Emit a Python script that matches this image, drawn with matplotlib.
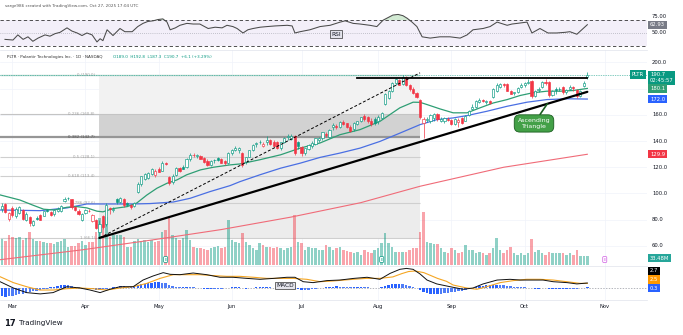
import matplotlib
matplotlib.use("Agg")
import matplotlib.pyplot as plt
import matplotlib.transforms as mtransforms
from matplotlib.lines import Line2D
import numpy as np
import pandas as pd

W, H = 683, 335
X0_PX = 12.3        # pixel column of the first March bar
PX_PER_BAR = 3.485  # horizontal spacing of daily bars
PLOT_RIGHT_PX = 647

HOLIDAYS = ["2025-04-18", "2025-05-26", "2025-06-19", "2025-07-04", "2025-09-01"]
MONTH_LABELS = ["Mar", "Apr", "May", "Jun", "Jul", "Aug", "Sep", "Oct", "Nov"]

# PLTR daily bars, Feb 26 .. Oct 27 2025
opens = [88.0, 92.0, 80.5, 89.0, 83.0, 85.0, 87.5, 80.0, 82.0, 76.0,
         81.5, 83.5, 83.0, 87.5, 86.0, 84.0, 86.5, 87.0, 94.0, 96.5,
         95.5, 89.5, 87.0, 80.0, 85.0, 86.5, 79.0, 79.5, 70.5, 82.5,
         76.5, 88.5, 87.5, 96.0, 93.5, 95.5, 92.5, 91.5, 90.5, 101.0,
         107.0, 111.0, 112.0, 115.0, 114.0, 119.0, 117.5, 123.0, 112.5, 109.0,
         114.0, 119.5, 120.0, 120.0, 126.0, 129.0, 128.5, 128.5, 127.0, 125.0,
         121.5, 125.5, 127.0, 126.0, 124.5, 123.0, 131.0, 133.5, 133.0, 131.0,
         124.0, 128.0, 133.0, 137.5, 139.0, 136.0, 139.0, 140.5, 139.5, 139.0,
         135.0, 139.5, 143.0, 141.5, 143.5, 139.0, 135.5, 131.0, 134.0, 136.0,
         138.0, 141.0, 142.0, 145.5, 143.0, 151.0, 151.5, 150.5, 154.5, 153.5,
         151.0, 149.0, 153.0, 155.0, 159.0, 158.0, 155.5, 157.0, 155.5, 157.5,
         168.5, 173.0, 178.5, 184.0, 186.5, 183.5, 188.5, 182.5, 179.5, 176.5,
         171.0, 153.5, 156.0, 155.0, 157.5, 160.5, 155.5, 155.5, 157.0, 156.0,
         153.0, 154.5, 157.5, 155.5, 159.5, 164.5, 166.0, 170.0, 171.0, 169.5,
         170.5, 173.5, 178.5, 181.5, 183.5, 183.5, 178.0, 176.5, 177.0, 181.0,
         182.5, 184.5, 185.5, 174.0, 179.0, 181.0, 184.5, 185.0, 175.0, 180.0,
         179.5, 181.0, 177.0, 180.0, 180.5, 179.0, 174.5, 182.0, 189.0]
highs = [92.5, 93.0, 86.0, 90.5, 89.5, 90.5, 88.5, 85.5, 82.5, 80.0,
         82.5, 84.5, 87.0, 88.5, 86.5, 88.0, 89.5, 91.0, 97.5, 97.0,
         96.0, 90.5, 88.0, 85.0, 88.5, 88.5, 84.5, 80.5, 80.0, 83.5,
         93.0, 89.5, 89.5, 96.5, 97.5, 96.5, 93.5, 92.0, 93.5, 108.5,
         113.5, 115.5, 116.5, 119.5, 118.5, 120.0, 124.5, 124.0, 113.5, 114.5,
         120.5, 120.5, 121.5, 127.0, 130.5, 130.5, 130.0, 129.5, 127.5, 126.0,
         125.5, 126.0, 128.0, 127.0, 125.5, 131.5, 134.0, 136.0, 135.5, 131.5,
         128.0, 133.5, 138.0, 139.0, 140.5, 139.5, 143.5, 141.5, 140.5, 140.0,
         139.5, 143.0, 145.5, 145.0, 144.5, 140.0, 136.0, 135.0, 137.5, 140.0,
         142.5, 143.0, 147.0, 147.0, 149.0, 153.5, 153.0, 155.5, 156.0, 154.0,
         152.0, 154.5, 155.5, 158.5, 160.5, 159.0, 157.5, 158.5, 160.0, 162.5,
         176.5, 179.0, 185.0, 188.0, 187.5, 190.0, 189.5, 183.5, 181.0, 177.5,
         172.0, 158.0, 158.5, 160.5, 161.5, 161.0, 158.0, 158.5, 158.0, 157.0,
         157.5, 157.5, 158.0, 160.0, 164.0, 168.5, 171.0, 173.0, 172.0, 171.5,
         171.5, 180.5, 184.0, 184.5, 184.5, 184.0, 179.0, 177.5, 181.0, 184.0,
         185.0, 187.5, 186.5, 179.0, 181.0, 185.5, 187.0, 186.0, 179.0, 181.0,
         181.5, 182.0, 179.5, 182.5, 182.0, 180.0, 179.0, 185.5, 192.8]
lows = [85.5, 84.8, 79.0, 82.0, 81.5, 84.0, 79.5, 79.0, 75.5, 75.0,
        79.5, 79.5, 82.5, 86.0, 82.5, 83.0, 85.5, 86.0, 93.5, 95.0,
        88.5, 86.5, 83.5, 79.0, 84.0, 85.5, 78.5, 73.0, 66.1, 73.0,
        75.0, 84.5, 86.0, 92.0, 92.5, 90.0, 90.5, 88.5, 89.5, 100.0,
        106.0, 110.0, 111.0, 114.0, 112.5, 116.0, 117.0, 121.5, 106.5, 107.5,
        113.5, 116.0, 118.5, 119.5, 125.0, 127.5, 127.0, 126.0, 123.5, 121.0,
        121.0, 123.0, 124.5, 123.0, 122.0, 122.5, 129.5, 132.5, 130.5, 120.5,
        122.5, 127.5, 132.5, 135.5, 137.5, 135.5, 137.0, 137.0, 135.5, 134.0,
        133.5, 138.5, 140.5, 141.0, 129.5, 134.0, 128.5, 129.5, 133.0, 135.0,
        137.0, 139.5, 141.0, 143.0, 142.5, 148.5, 149.0, 150.0, 152.0, 150.0,
        146.5, 148.0, 152.0, 154.5, 155.5, 154.0, 151.5, 152.5, 153.0, 156.5,
        167.5, 172.0, 177.5, 183.0, 182.5, 182.5, 182.0, 178.5, 175.5, 172.5,
        156.5, 142.5, 154.5, 154.0, 155.0, 155.5, 154.5, 154.0, 155.0, 152.0,
        152.0, 151.0, 153.0, 155.0, 159.0, 163.5, 165.5, 169.0, 169.5, 168.5,
        168.5, 173.0, 177.0, 180.5, 181.0, 178.0, 175.5, 175.0, 176.5, 180.5,
        181.5, 183.5, 172.5, 173.5, 177.5, 180.5, 183.0, 173.5, 174.0, 175.5,
        178.0, 176.0, 175.5, 179.0, 178.0, 172.5, 173.5, 181.0, 187.3]
closes = [90.5, 85.5, 85.0, 83.5, 88.5, 89.5, 80.5, 84.5, 77.5, 79.0,
          80.5, 80.0, 86.5, 87.0, 83.5, 87.5, 88.5, 90.5, 96.0, 96.3,
          89.5, 87.5, 84.5, 84.5, 87.5, 87.0, 83.5, 74.0, 76.5, 74.5,
          91.5, 88.5, 88.5, 93.5, 96.5, 91.0, 91.5, 89.5, 93.0, 107.5,
          113.0, 114.5, 115.5, 118.5, 117.5, 116.5, 123.5, 122.5, 108.0, 113.5,
          119.5, 117.0, 119.0, 126.5, 129.5, 129.0, 129.5, 126.5, 124.0, 122.0,
          125.0, 125.2, 125.5, 123.5, 123.0, 131.0, 133.0, 134.5, 134.5, 122.0,
          127.5, 133.0, 137.0, 138.5, 139.5, 138.0, 140.5, 137.5, 136.0, 134.5,
          139.0, 142.5, 143.5, 144.0, 131.0, 136.5, 130.5, 134.5, 137.0, 138.5,
          142.0, 142.5, 146.5, 144.5, 148.5, 152.0, 150.5, 154.5, 153.0, 151.0,
          148.0, 154.0, 155.0, 158.0, 156.5, 155.0, 153.0, 154.0, 158.5, 161.5,
          175.5, 178.5, 184.5, 187.0, 183.0, 188.5, 183.0, 179.5, 176.5, 173.5,
          158.0, 156.5, 156.5, 159.5, 160.5, 156.5, 156.5, 157.5, 156.0, 153.0,
          156.5, 156.0, 154.0, 159.0, 163.0, 166.0, 170.5, 171.5, 170.5, 170.5,
          169.0, 179.5, 183.0, 183.5, 182.5, 178.5, 176.0, 177.0, 180.5, 183.0,
          184.0, 185.0, 174.5, 178.0, 180.0, 185.0, 184.5, 175.0, 178.5, 179.0,
          180.0, 177.0, 179.0, 181.0, 180.5, 174.0, 178.5, 184.6, 190.7]
volumes = [95, 88, 112, 105, 100, 105, 93, 100, 124, 95,
           89, 89, 87, 83, 80, 77, 87, 91, 98, 67,
           70, 71, 82, 89, 74, 85, 85, 124, 175, 149,
           180, 103, 112, 112, 110, 106, 68, 68, 90, 96,
           90, 92, 85, 92, 87, 88, 124, 130, 180, 112,
           99, 93, 99, 130, 93, 68, 62, 62, 60, 57,
           62, 68, 71, 62, 68, 167, 93, 87, 81, 120,
           84, 74, 62, 56, 81, 74, 68, 68, 62, 68,
           62, 56, 62, 68, 186, 87, 81, 56, 68, 62,
           62, 56, 56, 74, 68, 56, 62, 68, 56, 51,
           47, 43, 50, 37, 56, 50, 43, 56, 62, 81,
           119, 81, 68, 50, 50, 50, 50, 56, 62, 62,
           124, 199, 87, 81, 78, 78, 62, 50, 43, 62,
           56, 43, 50, 74, 56, 56, 43, 50, 43, 37,
           43, 62, 100, 56, 43, 56, 68, 43, 37, 43,
           37, 43, 97, 50, 54, 43, 37, 50, 43, 46,
           43, 43, 37, 43, 37, 56, 33, 33, 33.48]   # millions

# moving averages, sampled along the lines (bar index, price)
ema_fast_x = [-3.5, 2.2, 6.0, 9.0, 12.0, 15.7, 18.5, 21.4, 24.3, 26.0, 29.0, 33.0, 35.7, 38.6, 41.5,
              44.4, 47.2, 50.0, 54.0, 57.7, 62.5, 65.3, 71.0, 77.0, 82.6, 88.3, 94.0, 99.8, 105.5,
              111.2, 115.0, 117.0, 119.0, 122.7, 126.5, 130.5, 134.2, 138.0, 142.0, 145.7, 149.4,
              153.4, 157.2, 160.9, 165.0]
ema_fast = [98.9, 95.0, 91.0, 88.0, 87.4, 89.5, 90.0, 89.0, 86.5, 86.0, 88.5, 90.0, 92.7, 98.8, 104.0,
            107.8, 110.3, 114.2, 118.0, 120.0, 121.8, 122.5, 125.7, 129.5, 134.6, 138.5, 144.8, 148.7,
            155.0, 165.3, 169.6, 169.5, 167.8, 164.5, 161.5, 161.5, 165.3, 169.0, 171.6, 174.7, 176.8,
            178.0, 178.0, 178.5, 180.1]
ema_slow_x = [-3.5, 8.0, 15.7, 21.4, 25.0, 34.7, 39.5, 46.2, 51.0, 56.7, 62.5, 65.3, 71.0, 77.0, 82.6,
              88.3, 94.0, 99.8, 105.5, 111.2, 117.0, 121.8, 126.5, 130.5, 136.2, 142.0, 147.7, 153.4,
              159.2, 165.0]
ema_slow = [87.4, 86.9, 89.0, 92.0, 92.0, 92.0, 92.3, 93.5, 96.3, 101.4, 106.0, 109.0, 114.2, 119.3,
            123.1, 127.5, 130.8, 134.6, 139.7, 146.0, 152.5, 156.3, 157.6, 159.4, 162.7, 166.5, 169.6,
            171.6, 172.2, 172.0]
sma_long_x = [-3.5, 20, 40, 60, 80, 100, 117, 141, 165]
sma_long = [49.5, 57.0, 64.5, 72.5, 82.0, 93.0, 105.5, 120.0, 129.9]

# RSI pane
rsi_x = [-2.1, 0.2, 1.6, 3.1, 4.5, 5.9, 7.4, 9.4, 10.8, 12.3, 13.7, 15.7, 17.1, 18.6, 20.0, 21.4,
         22.9, 24.3, 25.2, 26.0, 27.2, 28.9, 30.9, 32.3, 34.4, 36.0, 37.5, 38.9, 40.4, 41.8, 43.2,
         44.4, 45.3, 46.8, 48.1, 50.1, 51.9, 53.8, 56.2, 58.2, 60.2, 61.6, 63.3, 64.5, 66.2, 67.6,
         69.1, 71.1, 73.1, 75.4, 78.9, 80.3, 81.1, 82.6, 85.4, 88.3, 91.2, 94.1, 95.5, 97.8, 99.8,
         102.6, 104.6, 106.4, 107.8, 109.2, 110.7, 112.1, 113.3, 114.7, 116.1, 117.6, 119.9, 122.7,
         125.6, 128.5, 130.5, 132.2, 135.1, 137.1, 139.1, 142.0, 143.4, 144.9, 147.7, 149.1, 151.4,
         153.7, 156.2, 158.6, 160.0, 162.0, 165.0]
rsi_vals = [40, 39, 47, 40, 44, 37, 42, 47, 45, 49, 51, 58, 53, 50, 46, 50,
            47, 36, 41, 38, 55, 46, 57, 52, 52, 60, 65, 68, 69, 71, 72,
            67, 55, 58, 62, 65, 64, 64, 57, 59, 58, 62, 60, 57, 50, 55,
            57, 59, 60, 61, 62, 61, 50, 52, 55, 60, 62, 67, 69, 65, 64,
            62, 60, 70, 74, 78, 79, 77, 73, 67, 60, 44, 42, 44,
            44, 42, 47, 55, 57, 60, 67, 62, 64, 65, 67, 50, 57,
            50, 50, 51, 52, 48, 62.93]

# MACD pane
macd_x = [-3.5, 0.3, 4.1, 8.0, 11.7, 15.7, 19.4, 22.3, 25.2, 28.0, 30.9, 34.7, 37.5, 40.4, 43.3,
          45.3, 48.1, 51.9, 55.8, 59.6, 63.3, 67.3, 71.1, 75.0, 78.8, 81.1, 83.5, 86.3, 90.3, 94.0,
          98.0, 101.8, 105.5, 108.4, 111.2, 113.1, 115.0, 117.0, 119.0, 121.8, 125.6, 129.4, 132.2,
          135.1, 139.1, 142.8, 145.7, 148.5, 152.3, 155.2, 159.2, 162.0, 165.0]
macd_vals = [3.4, 0.0, -2.5, -3.2, -2.5, 0.7, 0.0, -1.1, -2.5, -0.7, 0.7, 0.7, 4.3, 6.5, 8.3,
             7.4, 7.2, 8.1, 7.2, 5.8, 5.8, 5.2, 4.7, 5.2, 5.8, 5.8, 3.4, 2.9, 4.0, 4.3,
             5.2, 5.8, 4.7, 7.9, 10.1, 10.6, 10.1, 7.6, 4.3, 2.2, 0.7, -0.7, 0.0,
             2.2, 4.3, 4.7, 4.3, 4.3, 4.3, 3.4, 2.9, 2.2, 2.7]
signal_x = [-3.5, 0.3, 4.1, 7.9, 11.8, 15.6, 19.4, 23.3, 27.1, 30.9, 34.7, 38.6, 42.4, 46.2, 50.0,
            53.9, 57.7, 61.5, 65.3, 69.2, 73.0, 76.8, 80.6, 84.5, 88.3, 92.1, 97.8, 101.6, 105.5,
            109.2, 111.8, 113.7, 115.6, 118.1, 120.0, 122.0, 124.6, 126.5, 130.4, 133.3, 136.1,
            140.0, 143.8, 147.6, 151.4, 155.2, 159.1, 162.9, 165.0]
signal_vals = [6.1, 2.9, 0.7, -1.1, -1.1, -0.4, 0.0, -0.4, -1.1, 0.0, 0.7, 2.5, 5.2, 7.2, 7.2,
               7.2, 6.7, 6.3, 6.3, 5.8, 5.2, 5.2, 5.2, 4.7, 3.4, 3.8, 4.7, 5.2, 5.2,
               6.0, 7.8, 8.9, 9.2, 8.3, 6.8, 5.2, 3.6, 1.6, 0.0, -0.7, 0.7,
               2.9, 4.0, 4.7, 4.7, 4.3, 3.4, 2.5, 2.5]
hist_vals = [-4.5, -4.7, -4.6, -4.3,
             -3.8, -3.3, -3.0, -2.6, -2.2, -1.8, -1.5, -1.1, -0.7, -0.3,
             0.3, 0.8, 1.2, 1.5, 1.6, 1.4, 1.0, 0.6, 0.3, 0.0,
             -0.3, -0.6, -0.8, -1.0, -1.2, -0.8, -0.3, 0.2, 0.5, 0.8,
             0.9, 0.9, 0.8, 0.8, 1.0, 1.6, 2.0, 2.4, 2.7, 2.9,
             3.0, 3.0, 2.9, 2.6, 1.6, 0.9, 0.6, 0.5, 0.6, 0.8,
             0.7, 0.5, 0.2, -0.1, -0.4, -0.6, -0.6, -0.5, -0.4, -0.3,
             -0.2, 0.1, 0.3, 0.5, 0.5, -0.2, -0.3, -0.1, 0.2, 0.4,
             0.5, 0.5, 0.5, 0.3, 0.1, 0.0, 0.1, 0.3, 0.5, 0.6,
             -0.3, -0.7, -1.1, -1.0, -0.9, -0.7, -0.4, -0.1, 0.2, 0.4,
             0.6, 0.8, 0.9, 0.8, 0.7, 0.5, 0.3, 0.3, 0.4, 0.5,
             0.4, 0.3, 0.1, -0.1, -0.2, 0.3, 1.0, 1.5, 1.9, 2.1,
             2.1, 2.0, 1.7, 1.2, 0.6, 0.0, -1.1, -2.0, -2.6, -3.0,
             -3.1, -3.1, -3.0, -2.8, -2.5, -2.3, -2.0, -1.7, -1.4, -1.0,
             -0.5, 0.0, 0.5, 1.0, 1.3, 1.4, 1.5, 1.6, 1.7, 1.6,
             1.4, 1.1, 0.9, 0.7, 0.6, 0.5, 0.4, 0.2, -0.2, -0.3,
             -0.3, -0.2, 0.0, -0.3, -0.5, -0.6, -0.7, -0.8, -0.8, -0.7,
             -0.6, -0.5, -0.2, 0.1, 0.3]

# drawings
fib_prices = [190.0, 160.8, 142.7, 128.1, 113.4, 92.6, 66.1]
fib_labels = ["0 (190.0)", "0.236 (160.8)", "0.382 (142.7)", "0.5 (128.1)",
              "0.618 (113.4)", "0.786 (92.6)", "1 (66.1)"]
fib_span = [25, 117]
support_line = ([25, 165], [66.1, 177.5])
resistance_line = ([99, 165], [188.3, 188.3])
channel_line = ([25, 117], [66.1, 192.0])
price_ticks = [200, 160, 140, 120, 100, 80, 60]

GREEN = "#089981"
RED = "#f23645"
TXT = "#131722"
FS = 3.8

fig = plt.figure(figsize=(W / 100, H / 100), dpi=100)
fig.patch.set_facecolor("white")


def fx(px):
    return px / W


def fy(py):
    return 1 - py / H


def axes_px(x0, y0, x1, y1):
    ax = fig.add_axes([fx(x0), fy(y1), (x1 - x0) / W, (y1 - y0) / H])
    ax.set_xlim((0 - X0_PX) / PX_PER_BAR, (PLOT_RIGHT_PX - X0_PX) / PX_PER_BAR)
    return ax


def strip(ax):
    ax.set_facecolor("none")
    for s in ax.spines.values():
        s.set_visible(False)
    ax.set_xticks([])
    ax.set_yticks([])


x = np.arange(len(closes)) - 3  # Mar 3 2025 is bar 0
opens, highs, lows, closes = map(np.array, (opens, highs, lows, closes))
volumes = np.array(volumes)

days = pd.bdate_range("2025-02-26", "2025-11-10")
days = days[~days.isin(pd.to_datetime(HOLIDAYS))]
day_idx = np.arange(len(days)) - 3
month_pos = [int(day_idx[np.argmax(np.asarray(days.month) == m)]) for m in range(3, 12)]

# ---- RSI ----
ax_rsi = axes_px(0, 10, PLOT_RIGHT_PX, 50)
ax_rsi.set_ylim(23.4, 85.9)
ax_rsi.axhspan(30, 70, color="#7e57c2", alpha=0.09, lw=0)
ax_rsi.axhline(70, color="#333333", lw=0.6, dashes=(4, 3))
ax_rsi.axhline(30, color="#333333", lw=0.6, dashes=(4, 3))
ax_rsi.axhline(50, color="#9598a1", lw=0.5, dashes=(1, 2))
ax_rsi.plot(rsi_x, rsi_vals, color="#4a4a4a", lw=0.75)
rsi_arr = np.array(rsi_vals, dtype=float)
ax_rsi.fill_between(rsi_x, 70, rsi_arr, where=rsi_arr > 70, interpolate=True,
                    color="#4caf50", alpha=0.25, lw=0)
strip(ax_rsi)

# ---- main price pane ----
ax_main = axes_px(0, 50, PLOT_RIGHT_PX, 266)
ax_main.set_ylim(44.7, 209.4)
for p in range(60, 201, 20):
    ax_main.axhline(p, color="#f0f3fa", lw=0.5, zorder=0)
for m in month_pos:
    ax_main.axvline(m, color="#f0f3fa", lw=0.5, zorder=0)

x_left = ax_main.get_xlim()[0]
band_cols = ["#f2f2f2", "#d2d2d2", "#ececec", "#ececec", "#ececec", "#ececec"]
for k in range(len(fib_prices) - 1):
    ax_main.fill_between(fib_span, fib_prices[k + 1], fib_prices[k],
                         color=band_cols[k], lw=0, zorder=0.2)
line_cols = ["#b9d9d0", "#c4c4c4", "#969696", "#cfcfcf", "#cfcfcf", "#cfcfcf", "#cfcfcf"]
line_w = [1.0, 0.8, 1.6, 0.8, 0.8, 0.8, 0.8]
for p, lab, c, lw in zip(fib_prices, fib_labels, line_cols, line_w):
    ax_main.hlines(p, x_left, fib_span[1], color=c, lw=lw, zorder=0.4)
    ax_main.text(fib_span[0] - 1.3, p, lab, fontsize=2.8, ha="right", va="center",
                 color="#555555" if lab.startswith("0.382") else "#a0a0a0", zorder=0.5)

# volume overlay at the bottom of the pane
prev_close = np.r_[opens[0], closes[:-1]]
up_day = closes >= prev_close
bar_col = np.where(up_day, GREEN, RED)
vol_trans = mtransforms.blended_transform_factory(ax_main.transData, ax_main.transAxes)
vol_full = 216 * 3.72
ax_main.bar(x, volumes / vol_full, bottom=1 / 216, width=0.72, color=bar_col, alpha=0.45,
            lw=0, transform=vol_trans, zorder=1)

ax_main.plot(sma_long_x, sma_long, color="#f06b78", lw=0.8, zorder=2)
ax_main.plot(ema_slow_x, ema_slow, color="#4a6fe3", lw=0.9, zorder=3)
ax_main.plot(ema_fast_x, ema_fast, color="#2e9e74", lw=0.9, zorder=3)

# hollow candles
face = np.where(closes > opens, "white", bar_col)
body_lo = np.minimum(opens, closes)
body_h = np.maximum(np.abs(closes - opens), 0.35)
ax_main.vlines(x, lows, highs, colors=bar_col, lw=0.5, zorder=4)
ax_main.bar(x, body_h, bottom=body_lo, width=0.62, color=face, edgecolor=bar_col,
            linewidth=0.45, zorder=5)

ax_main.axhline(closes[-1], color=GREEN, lw=0.5, ls=(0, (1, 1.5)), zorder=1)

ax_main.plot(*support_line, color="black", lw=1.6, zorder=6, solid_capstyle="round")
ax_main.plot(*resistance_line, color="black", lw=1.3, zorder=6)
ax_main.plot(*channel_line, color="black", lw=0.7, dashes=(3, 2), zorder=6)

tip_x = 153.5
tip_y = np.interp(tip_x, *support_line)
ax_main.annotate("Ascending\nTriangle", xy=(tip_x, tip_y), xytext=(149.7, 153.4),
                 fontsize=4.5, color="white", ha="center", va="center", linespacing=1.1,
                 bbox=dict(boxstyle="round,pad=0.55,rounding_size=0.9", fc="#43a047",
                           ec="#1b5e20", lw=0.6),
                 arrowprops=dict(arrowstyle="-", color="#1b5e20", lw=1.2,
                                 shrinkA=0, shrinkB=0), zorder=7)

# earnings markers
for xe, ec in ((44, GREEN), (106, GREEN), (170, "#d05ce3")):
    ax_main.text(xe, 0.03, "E", transform=vol_trans, fontsize=2.6, color=ec,
                 ha="center", va="center",
                 bbox=dict(boxstyle="round,pad=0.25", fc="white", ec=ec, lw=0.5), zorder=7)
strip(ax_main)

# ---- MACD ----
ax_macd = axes_px(0, 266, PLOT_RIGHT_PX, 300)
ax_macd.set_ylim(-6.5, 11.9)
for m in month_pos:
    ax_macd.axvline(m, color="#f0f3fa", lw=0.5, zorder=0)
ax_macd.axhline(0, color="#9598a1", lw=0.5, dashes=(2, 2), zorder=0)
hist = np.array(hist_vals)
growing = np.abs(hist) >= np.abs(np.r_[hist[0], hist[:-1]])
ax_macd.bar(x, hist, width=0.7, color=np.where(growing, "#2962ff", "#4f7df7"), lw=0, zorder=1)
ax_macd.plot(signal_x, signal_vals, color="#f5a623", lw=0.8, zorder=2)
ax_macd.plot(macd_x, macd_vals, color="#111111", lw=0.7, zorder=3)
strip(ax_macd)
ax_macd.set_xticks(month_pos)
ax_macd.set_xticklabels(MONTH_LABELS, fontsize=FS, color=TXT)
ax_macd.tick_params(axis="x", length=0, pad=2.6)

# pane name boxes
fig.text(fx(336), fy(34), "RSI", fontsize=4.2, color=TXT, ha="center", va="center",
         bbox=dict(boxstyle="square,pad=0.25", fc="#e4e4ec", ec="#333333", lw=0.5))
fig.text(fx(285), fy(285.5), "MACD", fontsize=4.2, color=TXT, ha="center", va="center",
         bbox=dict(boxstyle="square,pad=0.25", fc="#e4e4ec", ec="#333333", lw=0.5))

# ---- pane separators ----
for yy in (50, 266, 300):
    fig.add_artist(Line2D([0, fx(PLOT_RIGHT_PX)], [fy(yy), fy(yy)], transform=fig.transFigure,
                          color="#e0e3eb", lw=0.5))

# ---- right-hand scale ----
main_trans = mtransforms.blended_transform_factory(fig.transFigure, ax_main.transData)
rsi_trans = mtransforms.blended_transform_factory(fig.transFigure, ax_rsi.transData)
for p in price_ticks:
    fig.text(fx(652), p, f"{p:.1f}", transform=main_trans, fontsize=FS, color=TXT,
             ha="left", va="center")
for v in (75, 50):
    fig.text(fx(652), v, f"{v:.2f}", transform=rsi_trans, fontsize=FS, color=TXT,
             ha="left", va="center")


def tag(trans, y, s, fc, xpx=650, fg="white", **kw):
    fig.text(fx(xpx), y, s, transform=trans, fontsize=FS, color=fg, ha="left", va="center",
             bbox=dict(boxstyle="square,pad=0.3", fc=fc, ec="none"), **kw)


tag(rsi_trans, rsi_vals[-1], "62.93", "#787b86")
tag(main_trans, closes[-1] - 2.4, "190.7\n02:45:57", GREEN, linespacing=1.25)
tag(main_trans, closes[-1], "PLTR", GREEN, xpx=632)
tag(main_trans, ema_fast[-1], "180.1", "#2e9e74")
tag(main_trans, ema_slow[-1], "172.0", "#2962ff")
tag(main_trans, sma_long[-1], "129.9", RED)
tag(fig.transFigure, fy(258), "33.48M", "#26a69a")
tag(fig.transFigure, fy(271), "2.7", "#000000")
tag(fig.transFigure, fy(279.5), "2.5", "#ff9800")
tag(fig.transFigure, fy(288), "0.3", "#2962ff")

# ---- header and footer text ----
fig.text(fx(5), fy(6), "sarge986 created with TradingView.com, Oct 27, 2025 17:04 UTC",
         fontsize=3.0, color="#555555", ha="left", va="center")
fig.text(fx(7), fy(57), "PLTR · Palantir Technologies Inc. · 1D · NASDAQ",
         fontsize=3.0, color="#333333", ha="left", va="center")
fig.text(fx(113), fy(57), "O189.0  H192.8  L187.3  C190.7  +6.1 (+3.29%)",
         fontsize=3.0, color=GREEN, ha="left", va="center")
fig.text(fx(4), fy(323), "17", fontsize=6, fontweight="bold", color=TXT, ha="left", va="center")
fig.text(fx(19), fy(323), "TradingView", fontsize=5.2, color=TXT, ha="left", va="center")

fig.savefig("out.png", dpi=100, facecolor="white")
